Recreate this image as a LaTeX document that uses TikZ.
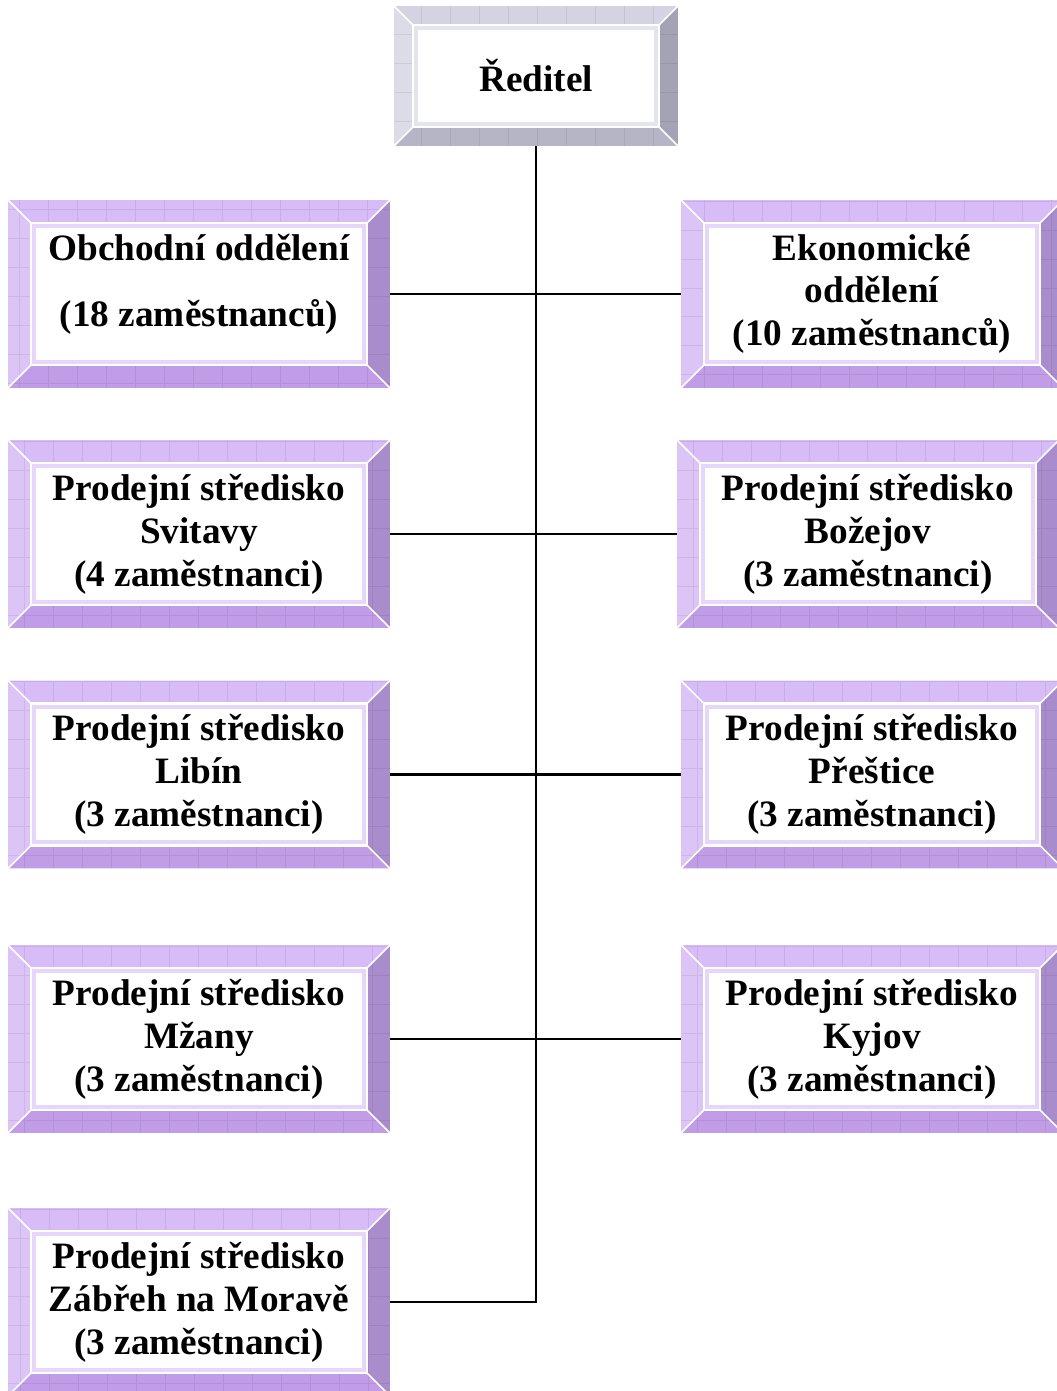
\documentclass[tikz,border=0pt]{standalone}
\usepackage{fontspec}
\setmainfont{Liberation Serif}
\usetikzlibrary{calc}

\definecolor{lilacTop}{HTML}{D8BCF8}
\definecolor{lilacLeft}{HTML}{DCC5F6}
\definecolor{lilacRight}{HTML}{A98CCB}
\definecolor{lilacBottom}{HTML}{C09DE6}
\definecolor{lilacMat}{HTML}{E6D6FA}
\definecolor{greyTop}{HTML}{D3D3E1}
\definecolor{greyLeft}{HTML}{DCDCE8}
\definecolor{greyRight}{HTML}{A3A3B5}
\definecolor{greyBottom}{HTML}{B5B5C6}
\definecolor{greyMat}{HTML}{E4E4EE}

\tikzset{
  bevel inset/.store in=\bevinset,
  bevel top/.store in=\bevtop,
  bevel left/.store in=\bevleft,
  bevel right/.store in=\bevright,
  bevel bottom/.store in=\bevbottom,
  bevel mat/.store in=\bevmat,
  bevelbox/.style={rectangle, inner sep=0pt, align=center, fill=white,
    font=\bfseries\fontsize{21.2}{24.4}\selectfont,
    minimum width=7.64cm, minimum height=3.76cm,
    path picture={
      \coordinate (bb-sw) at (path picture bounding box.south west);
      \coordinate (bb-ne) at (path picture bounding box.north east);
      \coordinate (bb-nw) at (bb-sw|-bb-ne);
      \coordinate (bb-se) at (bb-ne|-bb-sw);
      \coordinate (in-sw) at ($(bb-sw)+(\bevinset,\bevinset)$);
      \coordinate (in-ne) at ($(bb-ne)+(-\bevinset,-\bevinset)$);
      \coordinate (in-nw) at (in-sw|-in-ne);
      \coordinate (in-se) at (in-ne|-in-sw);
      \fill[\bevtop] (bb-nw)--(bb-ne)--(in-ne)--(in-nw)--cycle;
      \fill[\bevleft] (bb-nw)--(in-nw)--(in-sw)--(bb-sw)--cycle;
      \fill[\bevright] (bb-ne)--(bb-se)--(in-se)--(in-ne)--cycle;
      \fill[\bevbottom] (bb-sw)--(in-sw)--(in-se)--(bb-se)--cycle;
      \draw[step=0.58cm, black, opacity=0.07] (bb-sw) grid (bb-ne);
      \fill[\bevmat] (in-sw) rectangle (in-ne);
      \fill[white] ($(in-sw)+(0.1cm,0.1cm)$) rectangle ($(in-ne)+(-0.1cm,-0.1cm)$);
      \draw[white, line width=1.2pt] (in-sw) rectangle (in-ne);
      \draw[white, line width=0.9pt] (bb-sw)--(in-sw) (bb-nw)--(in-nw)
        (bb-ne)--(in-ne) (bb-se)--(in-se);
    }},
  purplebox/.style={bevelbox, bevel inset=0.46cm, bevel top=lilacTop,
    bevel left=lilacLeft, bevel right=lilacRight, bevel bottom=lilacBottom,
    bevel mat=lilacMat},
  greybox/.style={bevelbox, bevel inset=0.38cm, bevel top=greyTop,
    bevel left=greyLeft, bevel right=greyRight, bevel bottom=greyBottom,
    bevel mat=greyMat, minimum width=5.68cm, minimum height=2.8cm},
  link/.style={draw=black, line width=1.2pt},
}

\begin{document}
\begin{tikzpicture}[x=0.02cm,y=-0.02cm]
  \useasboundingbox (0,0) rectangle (1056,1391);
  % director
  \node[greybox] (reditel) at (536,76) {Ředitel};
  % departments and sales centres
  \node[purplebox] (obchod) at (199,294)
    {Obchodní oddělení\\[0.46cm](18 zaměstnanců)\\[-0.3cm]\mbox{}};
  \node[purplebox] (ekonom) at (872,294) {Ekonomické\\oddělení\\(10 zaměstnanců)};
  \node[purplebox] (svitavy) at (199,534) {Prodejní středisko\\Svitavy\\(4 zaměstnanci)};
  \node[purplebox] (bozejov) at (868,534) {Prodejní středisko\\Božejov\\(3 zaměstnanci)};
  \node[purplebox] (libin) at (199,774.5) {Prodejní středisko\\Libín\\(3 zaměstnanci)};
  \node[purplebox] (prestice) at (872,774.5) {Prodejní středisko\\Přeštice\\(3 zaměstnanci)};
  \node[purplebox] (mzany) at (199,1039) {Prodejní středisko\\Mžany\\(3 zaměstnanci)};
  \node[purplebox] (kyjov) at (872,1039) {Prodejní středisko\\Kyjov\\(3 zaměstnanci)};
  \node[purplebox] (zabreh) at (199,1302) {Prodejní středisko\\Zábřeh na Moravě\\(3 zaměstnanci)};
  % connectors
  \draw[link] (zabreh.east) -| (reditel.south);
  \draw[link] (obchod.east) -- (ekonom.west);
  \draw[link] (svitavy.east) -- (bozejov.west);
  \draw[link] (libin.east) -- (prestice.west);
  \draw[link] (mzany.east) -- (kyjov.west);
\end{tikzpicture}
\end{document}
